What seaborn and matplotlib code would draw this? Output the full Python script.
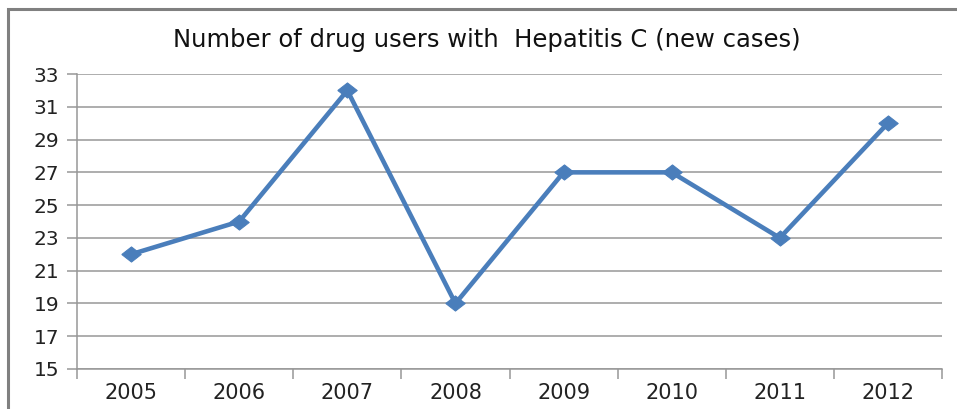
import matplotlib
matplotlib.use('Agg')
import matplotlib.pyplot as plt
from matplotlib.patches import Rectangle
import numpy as np
import pandas as pd
import seaborn as sns

YEARS = ['2005', '2006', '2007', '2008', '2009', '2010', '2011', '2012']
CASES = [22, 24, 32, 19, 27, 27, 23, 30]
Y_TICKS = [15, 17, 19, 21, 23, 25, 27, 29, 31, 33]
TITLE = 'Number of drug users with  Hepatitis C (new cases)'

LINE_COLOR = '#4A7EBB'
GRID_COLOR = '#979797'

sns.set_theme(style='white')
plt.rcParams['font.family'] = ['DejaVu Sans']

df = pd.DataFrame({'year': YEARS, 'cases': CASES})

fig = plt.figure(figsize=(9.57, 4.09), dpi=100)
ax = fig.add_axes([0.0805, 0.0978, 0.9038, 0.7212])

# diamond a bit wider than tall, like the excel one
diamond = [(-1, 0), (0, 0.78), (1, 0), (0, -0.78), (-1, 0)]
sns.lineplot(data=df, x='year', y='cases', ax=ax, color=LINE_COLOR,
             linewidth=3.3, marker=diamond, markersize=14,
             markeredgecolor=LINE_COLOR, markerfacecolor=LINE_COLOR)

ax.set_ylim(15, 33)
ax.set_yticks(Y_TICKS)
ax.set_xlim(-0.5, len(YEARS) - 0.5)
ax.set_xticks(range(len(YEARS)))
ax.set_xticklabels(YEARS)
ax.set_xticks(np.arange(-0.5, len(YEARS), 1.0), minor=True)
ax.set_xlabel('')
ax.set_ylabel('')

ax.yaxis.grid(True, color=GRID_COLOR, linewidth=1.1)
ax.set_axisbelow(True)
for side in ['top', 'right']:
    ax.spines[side].set_visible(False)
for side in ['left', 'bottom']:
    ax.spines[side].set_color(GRID_COLOR)
    ax.spines[side].set_linewidth(1.1)

ax.tick_params(axis='y', which='major', length=7, width=1.1, color=GRID_COLOR,
               labelsize=14.5, pad=6, labelcolor='#222222', left=True)
ax.tick_params(axis='x', which='major', length=0, labelsize=15, pad=10,
               labelcolor='#222222')
ax.tick_params(axis='x', which='minor', length=7, width=1.1, color=GRID_COLOR,
               bottom=True, direction='out')

fig.text(0.509, 0.902, TITLE, ha='center', va='center', fontsize=17.5,
         color='#111111')

# outer chart frame, only top and left are inside the picture
fig.patches.append(Rectangle((8 / 957, -0.1), 1.2, 1.1 - 9 / 409,
                             transform=fig.transFigure, fill=False,
                             edgecolor='#808080', linewidth=2.2))

fig.savefig('out.png', dpi=100)
